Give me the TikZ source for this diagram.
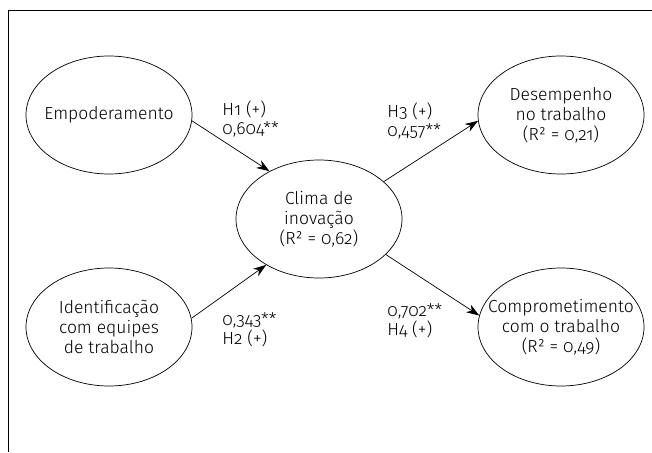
\documentclass[tikz,border=0pt]{standalone}
\usepackage{fontspec}
\setmainfont{Fira Sans}[UprightFont={* Light}, Numbers=OldStyle]
\usetikzlibrary{shapes.geometric, arrows.meta}

\begin{document}
\begin{tikzpicture}[x=1pt, y=-1pt, line width=0.7pt,
		construto/.style={ellipse, draw, minimum width=166pt, minimum height=118pt},
		texto/.style={align=center, inner sep=0pt, text=black, font=\fontsize{17.5}{20}\selectfont},
		rotulo/.style={anchor=west, align=left, inner sep=0pt, text=black, font=\fontsize{17.5}{19}\selectfont},
		seta/.style={-{Stealth[length=13pt, width=9pt]}}]
		\useasboundingbox (0,0) rectangle (652,452);
		%moldura
		\draw (652,10) -- (8,10) -- (8,452);
		
		%construtos
		\node[construto, label={[texto]center:Empoderamento}] (emp) at (109,115) {};
		\node[construto, label={[texto]center:Identificação\\com equipes\\de trabalho}] (ident) at (109,327) {};
		\node[construto, label={[texto]center:Clima de\\inovação\\(R² = 0,62)}] (clima) at (319,219) {};
		\node[construto, label={[texto]center:Desempenho\\no trabalho\\(R² = 0,21)}] (desemp) at (561,115) {};
		\node[construto, label={[texto]center:Comprometimento\\com o trabalho\\(R² = 0,49)}] (compr) at (561,327) {};
		
		%caminhos
		\draw[seta] (emp.-4) -- (clima.136);
		\draw[seta] (ident.6) -- (clima.221);
		\draw[seta] (clima.30) -- (desemp.184);
		\draw[seta] (clima.-28) -- (compr.172);
		
		%coeficientes
		\node[rotulo] (h1) at (222,119) {H1 (+)\\0,604**};
		\node[rotulo] (h2) at (222,330) {0,343**\\H2 (+)};
		\node[rotulo] (h3) at (387,121) {H3 (+)\\0,457**};
		\node[rotulo] (h4) at (387,321) {0,702**\\H4 (+)};
\end{tikzpicture}
\end{document}
